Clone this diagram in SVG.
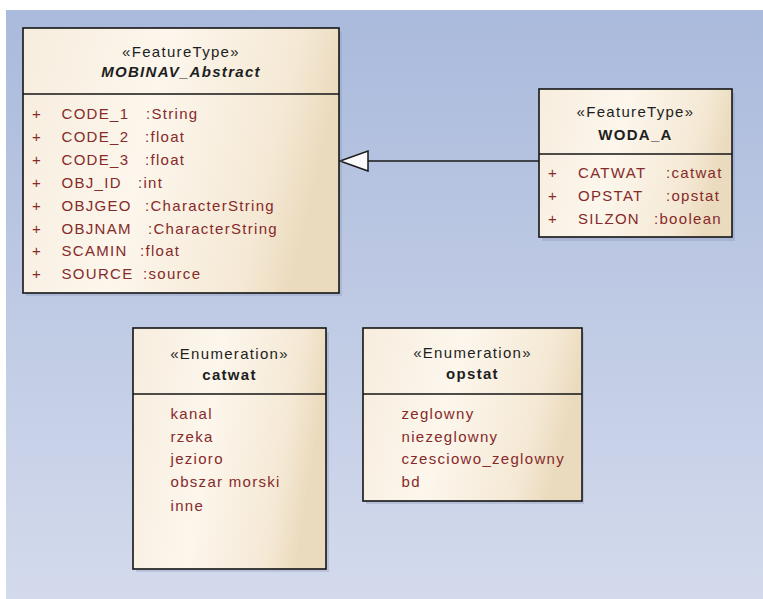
<svg xmlns="http://www.w3.org/2000/svg" width="763" height="599" viewBox="0 0 763 599">
<style>
  text { font-family: "Liberation Sans", Arial, sans-serif; font-size: 15px; letter-spacing: 1.3px; }
  .st { fill: #1e1e1e; text-anchor: middle; }
  .nm { fill: #1e1e1e; text-anchor: middle; font-weight: bold; }
  .it { font-style: italic; }
  .at { fill: #862a2a; }
  .pl { fill: #862a2a; letter-spacing: 0; }
  .box { fill: url(#boxFill); stroke: #151515; stroke-width: 1.6; }
  .div { stroke: #151515; stroke-width: 1.4; }
  .shadow { fill: #8090b0; opacity: 0.3; }
  .conn { stroke: #1a1a1a; stroke-width: 1.5; fill: none; }
</style>
<defs>
  <linearGradient id="bg" x1="0" y1="0" x2="0" y2="1">
    <stop offset="0" stop-color="#aabadc"/>
    <stop offset="1" stop-color="#d3daec"/>
  </linearGradient>
  <linearGradient id="boxFill" x1="0" y1="0" x2="1" y2="0.2">
    <stop offset="0" stop-color="#f7edde"/>
    <stop offset="0.45" stop-color="#fcf6ec"/>
    <stop offset="0.85" stop-color="#f5e9d5"/>
    <stop offset="1" stop-color="#ebdbbe"/>
  </linearGradient>
  <marker id="gen" markerUnits="userSpaceOnUse" markerWidth="32" markerHeight="24" refX="29" refY="11" orient="auto">
    <path d="M1,1 L29,11 L1,21 Z" fill="#fbfbfb" stroke="#1a1a1a" stroke-width="1.5"/>
  </marker>
</defs>

<rect x="0" y="0" width="763" height="599" fill="#ffffff"/>
<rect x="6" y="10" width="757" height="589" fill="url(#bg)"/>

<g id="connectors">
  <path class="conn" d="M539,161 L340,161" marker-end="url(#gen)"/>
</g>

<g id="MOBINAV_Abstract">
  <rect class="shadow" x="26" y="32" width="316" height="264"/>
  <rect class="box" x="23" y="28" width="316" height="265"/>
  <line class="div" x1="23" y1="94" x2="339" y2="94"/>
  <text class="st" x="181" y="57">«FeatureType»</text>
  <text class="nm it" x="181" y="77">MOBINAV_Abstract</text>
  <text class="pl" x="32" y="118.5">+</text><text class="at" x="61.5" y="118.5">CODE_1</text><text class="at" x="146" y="118.5">:String</text>
  <text class="pl" x="32" y="141.5">+</text><text class="at" x="61.5" y="141.5">CODE_2</text><text class="at" x="145" y="141.5">:float</text>
  <text class="pl" x="32" y="164.5">+</text><text class="at" x="61.5" y="164.5">CODE_3</text><text class="at" x="145" y="164.5">:float</text>
  <text class="pl" x="32" y="187.5">+</text><text class="at" x="61.5" y="187.5">OBJ_ID</text><text class="at" x="138" y="187.5">:int</text>
  <text class="pl" x="32" y="210.5">+</text><text class="at" x="61.5" y="210.5">OBJGEO</text><text class="at" x="145" y="210.5">:CharacterString</text>
  <text class="pl" x="32" y="233.5">+</text><text class="at" x="61.5" y="233.5">OBJNAM</text><text class="at" x="148" y="233.5">:CharacterString</text>
  <text class="pl" x="32" y="256">+</text><text class="at" x="61.5" y="256">SCAMIN</text><text class="at" x="140" y="256">:float</text>
  <text class="pl" x="32" y="278.5">+</text><text class="at" x="61.5" y="278.5">SOURCE</text><text class="at" x="143" y="278.5">:source</text>
</g>

<g id="WODA_A">
  <rect class="shadow" x="542" y="93" width="193" height="148"/>
  <rect class="box" x="539" y="89" width="193" height="148"/>
  <line class="div" x1="539" y1="154" x2="732" y2="154"/>
  <text class="st" x="635.5" y="117">«FeatureType»</text>
  <text class="nm" x="635.5" y="139.5">WODA_A</text>
  <text class="pl" x="548" y="178">+</text><text class="at" x="578" y="178">CATWAT</text><text class="at" x="666" y="178">:catwat</text>
  <text class="pl" x="548" y="201">+</text><text class="at" x="578" y="201">OPSTAT</text><text class="at" x="666" y="201">:opstat</text>
  <text class="pl" x="548" y="223.5">+</text><text class="at" x="578" y="223.5">SILZON</text><text class="at" x="654" y="223.5">:boolean</text>
</g>

<g id="catwat">
  <rect class="shadow" x="136" y="332" width="193" height="240"/>
  <rect class="box" x="133" y="328" width="193" height="241"/>
  <line class="div" x1="133" y1="394" x2="326" y2="394"/>
  <text class="st" x="229.5" y="358.5">«Enumeration»</text>
  <text class="nm" x="229.5" y="379.5">catwat</text>
  <text class="at" x="170.5" y="418.5">kanal</text>
  <text class="at" x="170.5" y="441.5">rzeka</text>
  <text class="at" x="170.5" y="464">jezioro</text>
  <text class="at" x="170.5" y="487">obszar morski</text>
  <text class="at" x="170.5" y="510.5">inne</text>
</g>

<g id="opstat">
  <rect class="shadow" x="366" y="332" width="218" height="172"/>
  <rect class="box" x="363" y="328" width="219" height="173"/>
  <line class="div" x1="363" y1="394" x2="582" y2="394"/>
  <text class="st" x="472.5" y="357.5">«Enumeration»</text>
  <text class="nm" x="472.5" y="378.5">opstat</text>
  <text class="at" x="401.5" y="418.5">zeglowny</text>
  <text class="at" x="401.5" y="441.5">niezeglowny</text>
  <text class="at" x="401.5" y="464">czesciowo_zeglowny</text>
  <text class="at" x="401.5" y="487">bd</text>
</g>
</svg>
